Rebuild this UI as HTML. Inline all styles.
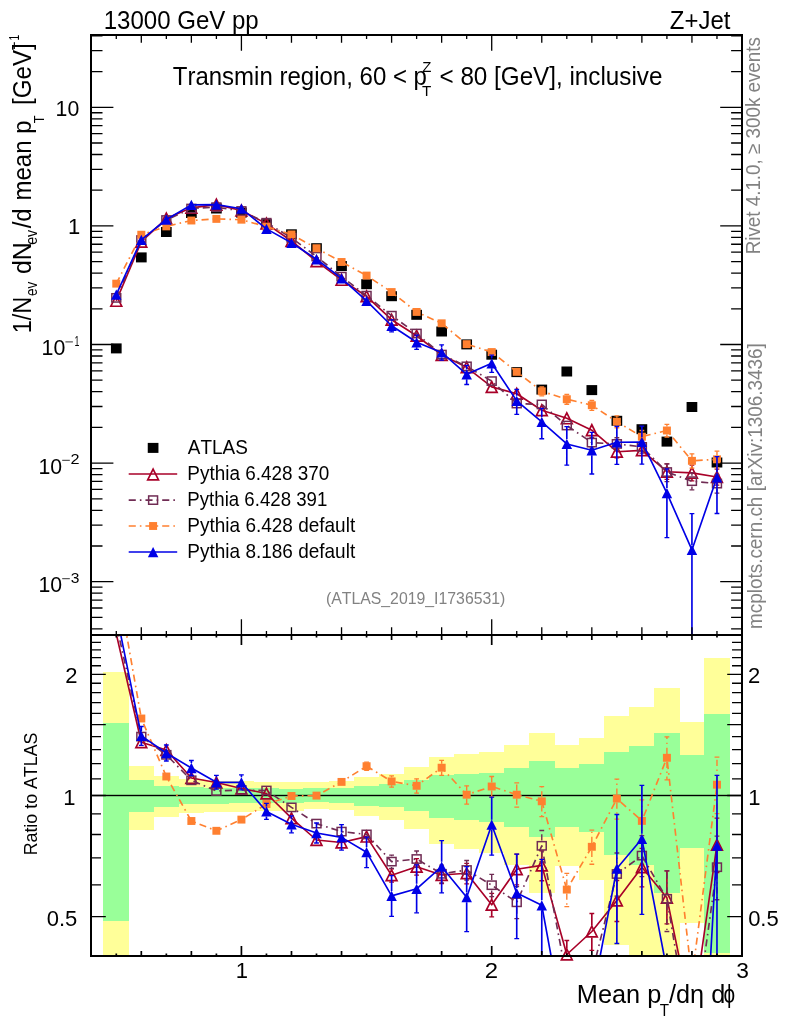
<!DOCTYPE html>
<html><head><meta charset="utf-8"><title>Z+Jet Transmin mean pT</title>
<style>html,body{margin:0;padding:0;background:#fff}body{width:786px;height:1024px;overflow:hidden}svg{display:block;will-change:transform}text{font-family:'Liberation Sans', sans-serif;fill:#000;font-kerning:none}</style></head><body>
<svg width="786" height="1024" viewBox="0 0 786 1024">
<defs>
<clipPath id="cm"><rect x="91" y="35" width="651" height="600"/></clipPath>
<clipPath id="cr"><rect x="91" y="635" width="651" height="321"/></clipPath>
<clipPath id="crm"><rect x="81" y="635" width="671" height="329"/></clipPath>
</defs>
<g clip-path="url(#cr)" shape-rendering="crispEdges">
<rect x="103" y="672.1" width="26" height="283.9" fill="#ffff99"/>
<rect x="128" y="766" width="26" height="64.2" fill="#ffff99"/>
<rect x="153" y="776.2" width="26" height="40.5" fill="#ffff99"/>
<rect x="178" y="779.3" width="26" height="33.8" fill="#ffff99"/>
<rect x="203" y="780.5" width="26" height="31.8" fill="#ffff99"/>
<rect x="228" y="781" width="26" height="30.8" fill="#ffff99"/>
<rect x="253" y="781.8" width="26" height="29.3" fill="#ffff99"/>
<rect x="278" y="782" width="26" height="28.5" fill="#ffff99"/>
<rect x="303" y="782.1" width="27" height="26.7" fill="#ffff99"/>
<rect x="329" y="781.3" width="26" height="29" fill="#ffff99"/>
<rect x="354" y="776.7" width="26" height="38.9" fill="#ffff99"/>
<rect x="379" y="774.1" width="26" height="45.4" fill="#ffff99"/>
<rect x="404" y="766.5" width="26" height="62.9" fill="#ffff99"/>
<rect x="429" y="757.1" width="26" height="86.7" fill="#ffff99"/>
<rect x="454" y="754.2" width="26" height="95.2" fill="#ffff99"/>
<rect x="479" y="752.2" width="26" height="100.5" fill="#ffff99"/>
<rect x="504" y="745.3" width="26" height="120.1" fill="#ffff99"/>
<rect x="529" y="732.6" width="26" height="160.8" fill="#ffff99"/>
<rect x="554" y="745" width="26" height="120.5" fill="#ffff99"/>
<rect x="579" y="738.3" width="26" height="141.4" fill="#ffff99"/>
<rect x="604" y="715.7" width="26" height="229.1" fill="#ffff99"/>
<rect x="629" y="707.2" width="26" height="248.8" fill="#ffff99"/>
<rect x="654" y="687.5" width="26" height="268.5" fill="#ffff99"/>
<rect x="679" y="722.2" width="26" height="200.6" fill="#ffff99"/>
<rect x="704" y="658.1" width="26" height="297.9" fill="#ffff99"/>
<rect x="103" y="722.9" width="26" height="198" fill="#99ff99"/>
<rect x="128" y="780" width="26" height="31.8" fill="#99ff99"/>
<rect x="153" y="785.6" width="26" height="20.9" fill="#99ff99"/>
<rect x="178" y="787.4" width="26" height="16.8" fill="#99ff99"/>
<rect x="203" y="787.7" width="26" height="16.3" fill="#99ff99"/>
<rect x="228" y="788.2" width="26" height="15.2" fill="#99ff99"/>
<rect x="253" y="788.4" width="26" height="14.5" fill="#99ff99"/>
<rect x="278" y="788.7" width="26" height="14" fill="#99ff99"/>
<rect x="303" y="788.2" width="27" height="13.7" fill="#99ff99"/>
<rect x="329" y="787.9" width="26" height="14.8" fill="#99ff99"/>
<rect x="354" y="786.3" width="26" height="19.4" fill="#99ff99"/>
<rect x="379" y="784.4" width="26" height="22.4" fill="#99ff99"/>
<rect x="404" y="780.2" width="26" height="31.2" fill="#99ff99"/>
<rect x="429" y="774.9" width="26" height="42.9" fill="#99ff99"/>
<rect x="454" y="773.8" width="26" height="46.3" fill="#99ff99"/>
<rect x="479" y="772.5" width="26" height="49.6" fill="#99ff99"/>
<rect x="504" y="768.2" width="26" height="59" fill="#99ff99"/>
<rect x="529" y="761.1" width="26" height="76.3" fill="#99ff99"/>
<rect x="554" y="768.1" width="26" height="58.9" fill="#99ff99"/>
<rect x="579" y="764.4" width="26" height="67.8" fill="#99ff99"/>
<rect x="604" y="751.6" width="26" height="103.2" fill="#99ff99"/>
<rect x="629" y="746.3" width="26" height="118.7" fill="#99ff99"/>
<rect x="654" y="733.1" width="26" height="159.4" fill="#99ff99"/>
<rect x="679" y="755" width="26" height="92.8" fill="#99ff99"/>
<rect x="704" y="714.1" width="26" height="238.4" fill="#99ff99"/>
</g>
<rect x="91" y="794.8" width="651" height="1.4" fill="#000"/>
<g clip-path="url(#cr)" fill="none" stroke="#a80028" stroke-width="1.65">
<polyline points="116.28,634 141.31,742.2 166.34,750 191.37,778 216.39,782.5 241.42,788.5 266.45,793.5 291.48,818.2 316.51,840 341.54,842.5 366.57,836.6 391.6,875.3 416.63,866.7 441.65,875 466.68,873.3 491.71,904.8 516.74,869.2 541.77,865.4 566.8,954.5 591.83,931.5 616.86,900.5 641.88,867.2 666.91,897.8 691.94,1019 716.97,844.7" stroke-linejoin="round"/>
<path d="M391.6 869.3V868.8M391.6 881.3V882.12M416.63 860.7V858.7M416.63 872.7V875.1M441.65 869V866.7M441.65 881V883.72M466.68 867.3V863.3M466.68 879.3V883.8M491.71 898.8V893.3M491.71 910.8V916.88M516.74 863.2V854.2M516.74 875.2V884.95M541.77 859.4V850.8M541.77 871.4V880.73M566.8 948.5V940.5M566.8 960.5V969.2M591.83 925.5V913.5M591.83 937.5V950.4M616.86 894.5V880.5M616.86 906.5V921.5M641.88 861.2V848.4M641.88 873.2V886.94M666.91 891.8V870.8M666.91 903.8V923.8M716.97 838.7V818.2M716.97 850.7V872.53" stroke-width="1.65"/>
<path d="M389.2 868.8h4.8M389.2 882.12h4.8M414.23 858.7h4.8M414.23 875.1h4.8M439.25 866.7h4.8M439.25 883.72h4.8M464.28 863.3h4.8M464.28 883.8h4.8M489.31 893.3h4.8M489.31 916.88h4.8M514.34 854.2h4.8M514.34 884.95h4.8M539.37 850.8h4.8M539.37 880.73h4.8M564.4 940.5h4.8M564.4 969.2h4.8M589.43 913.5h4.8M589.43 950.4h4.8M614.46 880.5h4.8M614.46 921.5h4.8M639.48 848.4h4.8M639.48 886.94h4.8M664.51 870.8h4.8M664.51 923.8h4.8M714.57 818.2h4.8M714.57 872.53h4.8" stroke-width="1.3"/>
</g>
<g>
<path d="M135.91 747.6L146.71 747.6L141.31 736.8Z" fill="none" stroke="#a80028" stroke-width="1.7" stroke-linejoin="miter"/>
<path d="M160.94 755.4L171.74 755.4L166.34 744.6Z" fill="none" stroke="#a80028" stroke-width="1.7" stroke-linejoin="miter"/>
<path d="M185.97 783.4L196.77 783.4L191.37 772.6Z" fill="none" stroke="#a80028" stroke-width="1.7" stroke-linejoin="miter"/>
<path d="M210.99 787.9L221.79 787.9L216.39 777.1Z" fill="none" stroke="#a80028" stroke-width="1.7" stroke-linejoin="miter"/>
<path d="M236.02 793.9L246.82 793.9L241.42 783.1Z" fill="none" stroke="#a80028" stroke-width="1.7" stroke-linejoin="miter"/>
<path d="M261.05 798.9L271.85 798.9L266.45 788.1Z" fill="none" stroke="#a80028" stroke-width="1.7" stroke-linejoin="miter"/>
<path d="M286.08 823.6L296.88 823.6L291.48 812.8Z" fill="none" stroke="#a80028" stroke-width="1.7" stroke-linejoin="miter"/>
<path d="M311.11 845.4L321.91 845.4L316.51 834.6Z" fill="none" stroke="#a80028" stroke-width="1.7" stroke-linejoin="miter"/>
<path d="M336.14 847.9L346.94 847.9L341.54 837.1Z" fill="none" stroke="#a80028" stroke-width="1.7" stroke-linejoin="miter"/>
<path d="M361.17 842L371.97 842L366.57 831.2Z" fill="none" stroke="#a80028" stroke-width="1.7" stroke-linejoin="miter"/>
<path d="M386.2 880.7L397 880.7L391.6 869.9Z" fill="none" stroke="#a80028" stroke-width="1.7" stroke-linejoin="miter"/>
<path d="M411.23 872.1L422.03 872.1L416.63 861.3Z" fill="none" stroke="#a80028" stroke-width="1.7" stroke-linejoin="miter"/>
<path d="M436.25 880.4L447.05 880.4L441.65 869.6Z" fill="none" stroke="#a80028" stroke-width="1.7" stroke-linejoin="miter"/>
<path d="M461.28 878.7L472.08 878.7L466.68 867.9Z" fill="none" stroke="#a80028" stroke-width="1.7" stroke-linejoin="miter"/>
<path d="M486.31 910.2L497.11 910.2L491.71 899.4Z" fill="none" stroke="#a80028" stroke-width="1.7" stroke-linejoin="miter"/>
<path d="M511.34 874.6L522.14 874.6L516.74 863.8Z" fill="none" stroke="#a80028" stroke-width="1.7" stroke-linejoin="miter"/>
<path d="M536.37 870.8L547.17 870.8L541.77 860Z" fill="none" stroke="#a80028" stroke-width="1.7" stroke-linejoin="miter"/>
<path d="M561.4 959.9L572.2 959.9L566.8 949.1Z" fill="none" stroke="#a80028" stroke-width="1.7" stroke-linejoin="miter"/>
<path d="M586.43 936.9L597.23 936.9L591.83 926.1Z" fill="none" stroke="#a80028" stroke-width="1.7" stroke-linejoin="miter"/>
<path d="M611.46 905.9L622.26 905.9L616.86 895.1Z" fill="none" stroke="#a80028" stroke-width="1.7" stroke-linejoin="miter"/>
<path d="M636.48 872.6L647.28 872.6L641.88 861.8Z" fill="none" stroke="#a80028" stroke-width="1.7" stroke-linejoin="miter"/>
<path d="M661.51 903.2L672.31 903.2L666.91 892.4Z" fill="none" stroke="#a80028" stroke-width="1.7" stroke-linejoin="miter"/>
<path d="M711.57 850.1L722.37 850.1L716.97 839.3Z" fill="none" stroke="#a80028" stroke-width="1.7" stroke-linejoin="miter"/>
</g>
<g clip-path="url(#cr)" fill="none" stroke="#702c54" stroke-width="1.65">
<polyline points="116.28,624 141.31,736.6 166.34,754.8 191.37,780.3 216.39,791 241.42,790 266.45,790.5 291.48,807.4 316.51,823.6 341.54,831.6 366.57,834.4 391.6,861.6 416.63,859 441.65,873.8 466.68,870 491.71,885.2 516.74,902.3 541.77,845.8 566.8,978.9 591.83,973.8 616.86,874 641.88,855.6 666.91,898.8 691.94,1047.3 716.97,867.2" stroke-dasharray="7.1 4.05 1.6 4.0" stroke-linejoin="round"/>
<path d="M391.6 856.3V855.1M391.6 866.9V868.43M416.63 853.7V851M416.63 864.3V867.4M441.65 868.5V865.2M441.65 879.1V882.83M466.68 864.7V860.5M466.68 875.3V879.98M491.71 879.9V874.4M491.71 890.5V896.54M516.74 897V886.7M516.74 907.6V918.68M541.77 840.5V830.5M541.77 851.1V861.87M616.86 868.7V853M616.86 879.3V896.05M641.88 850.3V835.6M641.88 860.9V876.6M666.91 893.5V870.8M666.91 904.1V931.5M716.97 861.9V836.2M716.97 872.5V899.75" stroke-width="1.4" stroke-dasharray="6.2 3.6 1.4 3.6"/>
<path d="M389.2 855.1h4.8M389.2 868.43h4.8M414.23 851h4.8M414.23 867.4h4.8M439.25 865.2h4.8M439.25 882.83h4.8M464.28 860.5h4.8M464.28 879.98h4.8M489.31 874.4h4.8M489.31 896.54h4.8M514.34 886.7h4.8M514.34 918.68h4.8M539.37 830.5h4.8M539.37 861.87h4.8M614.46 853h4.8M614.46 896.05h4.8M639.48 835.6h4.8M639.48 876.6h4.8M664.51 870.8h4.8M664.51 931.5h4.8M714.57 836.2h4.8M714.57 899.75h4.8" stroke-width="1.3"/>
</g>
<g>
<rect x="136.86" y="732.45" width="8.9" height="8.3" fill="none" stroke="#702c54" stroke-width="1.5"/>
<rect x="161.89" y="750.65" width="8.9" height="8.3" fill="none" stroke="#702c54" stroke-width="1.5"/>
<rect x="186.92" y="776.15" width="8.9" height="8.3" fill="none" stroke="#702c54" stroke-width="1.5"/>
<rect x="211.94" y="786.85" width="8.9" height="8.3" fill="none" stroke="#702c54" stroke-width="1.5"/>
<rect x="236.97" y="785.85" width="8.9" height="8.3" fill="none" stroke="#702c54" stroke-width="1.5"/>
<rect x="262" y="786.35" width="8.9" height="8.3" fill="none" stroke="#702c54" stroke-width="1.5"/>
<rect x="287.03" y="803.25" width="8.9" height="8.3" fill="none" stroke="#702c54" stroke-width="1.5"/>
<rect x="312.06" y="819.45" width="8.9" height="8.3" fill="none" stroke="#702c54" stroke-width="1.5"/>
<rect x="337.09" y="827.45" width="8.9" height="8.3" fill="none" stroke="#702c54" stroke-width="1.5"/>
<rect x="362.12" y="830.25" width="8.9" height="8.3" fill="none" stroke="#702c54" stroke-width="1.5"/>
<rect x="387.15" y="857.45" width="8.9" height="8.3" fill="none" stroke="#702c54" stroke-width="1.5"/>
<rect x="412.18" y="854.85" width="8.9" height="8.3" fill="none" stroke="#702c54" stroke-width="1.5"/>
<rect x="437.2" y="869.65" width="8.9" height="8.3" fill="none" stroke="#702c54" stroke-width="1.5"/>
<rect x="462.23" y="865.85" width="8.9" height="8.3" fill="none" stroke="#702c54" stroke-width="1.5"/>
<rect x="487.26" y="881.05" width="8.9" height="8.3" fill="none" stroke="#702c54" stroke-width="1.5"/>
<rect x="512.29" y="898.15" width="8.9" height="8.3" fill="none" stroke="#702c54" stroke-width="1.5"/>
<rect x="537.32" y="841.65" width="8.9" height="8.3" fill="none" stroke="#702c54" stroke-width="1.5"/>
<rect x="612.41" y="869.85" width="8.9" height="8.3" fill="none" stroke="#702c54" stroke-width="1.5"/>
<rect x="637.43" y="851.45" width="8.9" height="8.3" fill="none" stroke="#702c54" stroke-width="1.5"/>
<rect x="662.46" y="894.65" width="8.9" height="8.3" fill="none" stroke="#702c54" stroke-width="1.5"/>
<rect x="712.52" y="863.05" width="8.9" height="8.3" fill="none" stroke="#702c54" stroke-width="1.5"/>
</g>
<g clip-path="url(#cr)" fill="none" stroke="#ff8030" stroke-width="1.65">
<polyline points="116.28,575.7 141.31,718.5 166.34,776.5 191.37,821 216.39,830.8 241.42,819.6 266.45,804 291.48,796 316.51,795.6 341.54,781.9 366.57,766.2 391.6,781.4 416.63,785.8 441.65,767.7 466.68,794.7 491.71,786.5 516.74,794.7 541.77,801.3 566.8,889.6 591.83,846.8 616.86,798.6 641.88,820.9 666.91,757.8 691.94,978.2 716.97,784.7" stroke-dasharray="7.1 4.05 1.6 4.0" stroke-linejoin="round"/>
<path d="M366.57 762.3V762.2M366.57 770.1V770.4M391.6 777.5V775.9M391.6 785.3V787.17M416.63 781.9V778.8M416.63 789.7V793.15M441.65 763.8V760.3M441.65 771.6V775.47M466.68 790.8V785.8M466.68 798.6V804.05M491.71 782.6V776.5M491.71 790.4V797M516.74 790.8V782.9M516.74 798.6V807.09M541.77 797.4V786.7M541.77 805.2V816.63M566.8 885.7V873.4M566.8 893.5V906.61M591.83 842.9V830.2M591.83 850.7V864.23M616.86 794.7V779.1M616.86 802.5V819.08M641.88 817V799.9M641.88 824.8V842.95M666.91 753.9V736.8M666.91 761.7V779.85M716.97 780.8V757.2M716.97 788.6V813.58" stroke-width="1.4" stroke-dasharray="6.2 3.6 1.4 3.6"/>
<path d="M364.17 762.2h4.8M364.17 770.4h4.8M389.2 775.9h4.8M389.2 787.17h4.8M414.23 778.8h4.8M414.23 793.15h4.8M439.25 760.3h4.8M439.25 775.47h4.8M464.28 785.8h4.8M464.28 804.05h4.8M489.31 776.5h4.8M489.31 797h4.8M514.34 782.9h4.8M514.34 807.09h4.8M539.37 786.7h4.8M539.37 816.63h4.8M564.4 873.4h4.8M564.4 906.61h4.8M589.43 830.2h4.8M589.43 864.23h4.8M614.46 779.1h4.8M614.46 819.08h4.8M639.48 799.9h4.8M639.48 842.95h4.8M664.51 736.8h4.8M664.51 779.85h4.8M714.57 757.2h4.8M714.57 813.58h4.8" stroke-width="1.3"/>
</g>
<g>
<rect x="137.31" y="714.55" width="8" height="7.9" fill="#ff8030" stroke="none"/>
<rect x="162.34" y="772.55" width="8" height="7.9" fill="#ff8030" stroke="none"/>
<rect x="187.37" y="817.05" width="8" height="7.9" fill="#ff8030" stroke="none"/>
<rect x="212.39" y="826.85" width="8" height="7.9" fill="#ff8030" stroke="none"/>
<rect x="237.42" y="815.65" width="8" height="7.9" fill="#ff8030" stroke="none"/>
<rect x="262.45" y="800.05" width="8" height="7.9" fill="#ff8030" stroke="none"/>
<rect x="287.48" y="792.05" width="8" height="7.9" fill="#ff8030" stroke="none"/>
<rect x="312.51" y="791.65" width="8" height="7.9" fill="#ff8030" stroke="none"/>
<rect x="337.54" y="777.95" width="8" height="7.9" fill="#ff8030" stroke="none"/>
<rect x="362.57" y="762.25" width="8" height="7.9" fill="#ff8030" stroke="none"/>
<rect x="387.6" y="777.45" width="8" height="7.9" fill="#ff8030" stroke="none"/>
<rect x="412.63" y="781.85" width="8" height="7.9" fill="#ff8030" stroke="none"/>
<rect x="437.65" y="763.75" width="8" height="7.9" fill="#ff8030" stroke="none"/>
<rect x="462.68" y="790.75" width="8" height="7.9" fill="#ff8030" stroke="none"/>
<rect x="487.71" y="782.55" width="8" height="7.9" fill="#ff8030" stroke="none"/>
<rect x="512.74" y="790.75" width="8" height="7.9" fill="#ff8030" stroke="none"/>
<rect x="537.77" y="797.35" width="8" height="7.9" fill="#ff8030" stroke="none"/>
<rect x="562.8" y="885.65" width="8" height="7.9" fill="#ff8030" stroke="none"/>
<rect x="587.83" y="842.85" width="8" height="7.9" fill="#ff8030" stroke="none"/>
<rect x="612.86" y="794.65" width="8" height="7.9" fill="#ff8030" stroke="none"/>
<rect x="637.88" y="816.95" width="8" height="7.9" fill="#ff8030" stroke="none"/>
<rect x="662.91" y="753.85" width="8" height="7.9" fill="#ff8030" stroke="none"/>
<rect x="712.97" y="780.75" width="8" height="7.9" fill="#ff8030" stroke="none"/>
</g>
<g clip-path="url(#cr)" fill="none" stroke="#0000e6" stroke-width="1.65">
<polyline points="116.28,613 141.31,735.9 166.34,753 191.37,768 216.39,782.3 241.42,782.3 266.45,811.4 291.48,824.3 316.51,833 341.54,837.4 366.57,852.2 391.6,895.9 416.63,888.8 441.65,866.7 466.68,897.2 491.71,824.7 516.74,893.1 541.77,905.3 566.8,1041.5 591.83,999.7 616.86,868.5 641.88,838.8 666.91,970.4 691.94,1280.7 716.97,845.6" stroke-linejoin="round"/>
<path d="M141.31 730.9V726.5M141.31 740.9V745.3M166.34 748V745M166.34 758V761M191.37 763V760.5M191.37 773V775.5M216.39 777.3V775.4M216.39 787.3V789.2M241.42 777.3V774.8M241.42 787.3V789.8M266.45 806.4V803.4M266.45 816.4V819.4M291.48 819.3V815.8M291.48 829.3V832.8M316.51 828V823M316.51 838V843M341.54 832.4V824.7M341.54 842.4V850.1M366.57 847.2V837.2M366.57 857.2V867.7M391.6 890.9V875.6M391.6 900.9V916.3M416.63 883.8V864.8M416.63 893.8V912.8M441.65 861.7V840.7M441.65 871.7V892.9M466.68 892.2V866.7M466.68 902.2V931.6M491.71 819.7V797.2M491.71 829.7V855.2M516.74 888.1V854.1M516.74 898.1V938.7M541.77 900.3V859.3M541.77 910.3V962.3M616.86 863.5V814.5M616.86 873.5V943.5M641.88 833.8V785.3M641.88 843.8V914.4M716.97 840.6V775.3M716.97 850.6V968.6" stroke-width="1.65"/>
<path d="M138.91 726.5h4.8M138.91 745.3h4.8M163.94 745h4.8M163.94 761h4.8M188.97 760.5h4.8M188.97 775.5h4.8M213.99 775.4h4.8M213.99 789.2h4.8M239.02 774.8h4.8M239.02 789.8h4.8M264.05 803.4h4.8M264.05 819.4h4.8M289.08 815.8h4.8M289.08 832.8h4.8M314.11 823h4.8M314.11 843h4.8M339.14 824.7h4.8M339.14 850.1h4.8M364.17 837.2h4.8M364.17 867.7h4.8M389.2 875.6h4.8M389.2 916.3h4.8M414.23 864.8h4.8M414.23 912.8h4.8M439.25 840.7h4.8M439.25 892.9h4.8M464.28 866.7h4.8M464.28 931.6h4.8M489.31 797.2h4.8M489.31 855.2h4.8M514.34 854.1h4.8M514.34 938.7h4.8M539.37 859.3h4.8M539.37 962.3h4.8M614.46 814.5h4.8M614.46 943.5h4.8M639.48 785.3h4.8M639.48 914.4h4.8M714.57 775.3h4.8M714.57 968.6h4.8" stroke-width="1.3"/>
</g>
<g>
<path d="M136.06 741.05L146.56 741.05L141.31 730.75Z" fill="#0000e6" stroke="none"/>
<path d="M161.09 758.15L171.59 758.15L166.34 747.85Z" fill="#0000e6" stroke="none"/>
<path d="M186.12 773.15L196.62 773.15L191.37 762.85Z" fill="#0000e6" stroke="none"/>
<path d="M211.14 787.45L221.64 787.45L216.39 777.15Z" fill="#0000e6" stroke="none"/>
<path d="M236.17 787.45L246.67 787.45L241.42 777.15Z" fill="#0000e6" stroke="none"/>
<path d="M261.2 816.55L271.7 816.55L266.45 806.25Z" fill="#0000e6" stroke="none"/>
<path d="M286.23 829.45L296.73 829.45L291.48 819.15Z" fill="#0000e6" stroke="none"/>
<path d="M311.26 838.15L321.76 838.15L316.51 827.85Z" fill="#0000e6" stroke="none"/>
<path d="M336.29 842.55L346.79 842.55L341.54 832.25Z" fill="#0000e6" stroke="none"/>
<path d="M361.32 857.35L371.82 857.35L366.57 847.05Z" fill="#0000e6" stroke="none"/>
<path d="M386.35 901.05L396.85 901.05L391.6 890.75Z" fill="#0000e6" stroke="none"/>
<path d="M411.38 893.95L421.88 893.95L416.63 883.65Z" fill="#0000e6" stroke="none"/>
<path d="M436.4 871.85L446.9 871.85L441.65 861.55Z" fill="#0000e6" stroke="none"/>
<path d="M461.43 902.35L471.93 902.35L466.68 892.05Z" fill="#0000e6" stroke="none"/>
<path d="M486.46 829.85L496.96 829.85L491.71 819.55Z" fill="#0000e6" stroke="none"/>
<path d="M511.49 898.25L521.99 898.25L516.74 887.95Z" fill="#0000e6" stroke="none"/>
<path d="M536.52 910.45L547.02 910.45L541.77 900.15Z" fill="#0000e6" stroke="none"/>
<path d="M611.61 873.65L622.11 873.65L616.86 863.35Z" fill="#0000e6" stroke="none"/>
<path d="M636.63 843.95L647.13 843.95L641.88 833.65Z" fill="#0000e6" stroke="none"/>
<path d="M711.72 850.75L722.22 850.75L716.97 840.45Z" fill="#0000e6" stroke="none"/>
</g>
<g clip-path="url(#cm)">
<rect x="110.93" y="343.4" width="10.7" height="10" fill="#000" stroke="none"/>
<rect x="135.96" y="252.4" width="10.7" height="10" fill="#000" stroke="none"/>
<rect x="160.99" y="227" width="10.7" height="10" fill="#000" stroke="none"/>
<rect x="186.02" y="208" width="10.7" height="10" fill="#000" stroke="none"/>
<rect x="211.04" y="203.5" width="10.7" height="10" fill="#000" stroke="none"/>
<rect x="236.07" y="207.6" width="10.7" height="10" fill="#000" stroke="none"/>
<rect x="261.1" y="219.2" width="10.7" height="10" fill="#000" stroke="none"/>
<rect x="286.13" y="229.3" width="10.7" height="10" fill="#000" stroke="none"/>
<rect x="311.16" y="243.2" width="10.7" height="10" fill="#000" stroke="none"/>
<rect x="336.19" y="261" width="10.7" height="10" fill="#000" stroke="none"/>
<rect x="361.22" y="279.2" width="10.7" height="10" fill="#000" stroke="none"/>
<rect x="386.25" y="291.2" width="10.7" height="10" fill="#000" stroke="none"/>
<rect x="411.28" y="309.8" width="10.7" height="10" fill="#000" stroke="none"/>
<rect x="436.3" y="326.5" width="10.7" height="10" fill="#000" stroke="none"/>
<rect x="461.33" y="339.4" width="10.7" height="10" fill="#000" stroke="none"/>
<rect x="486.36" y="349.7" width="10.7" height="10" fill="#000" stroke="none"/>
<rect x="511.39" y="367.1" width="10.7" height="10" fill="#000" stroke="none"/>
<rect x="536.42" y="384.6" width="10.7" height="10" fill="#000" stroke="none"/>
<rect x="561.45" y="366.5" width="10.7" height="10" fill="#000" stroke="none"/>
<rect x="586.48" y="385.1" width="10.7" height="10" fill="#000" stroke="none"/>
<rect x="611.51" y="415.8" width="10.7" height="10" fill="#000" stroke="none"/>
<rect x="636.53" y="424.2" width="10.7" height="10" fill="#000" stroke="none"/>
<rect x="661.56" y="436.6" width="10.7" height="10" fill="#000" stroke="none"/>
<rect x="686.59" y="402" width="10.7" height="10" fill="#000" stroke="none"/>
<rect x="711.62" y="457.5" width="10.7" height="10" fill="#000" stroke="none"/>
</g>
<g clip-path="url(#cm)" fill="none" stroke="#a80028" stroke-width="1.65">
<polyline points="116.28,300.83 141.31,241.7 166.34,218.6 191.37,207.84 216.39,204.67 241.42,210.54 266.45,223.61 291.48,240.99 316.51,261.31 341.54,279.84 366.57,296.31 391.6,319.71 416.63,335.77 441.65,354.92 466.68,367.32 491.71,386.9 516.74,393.81 541.77,410.19 566.8,418.34 591.83,430.16 616.86,451.73 641.88,450.32 666.91,471.73 691.94,472.84 716.97,476.99" stroke-linejoin="round"/>
<path d="M616.86 457.73V457.92M666.91 465.73V463.78M666.91 477.73V479.39M691.94 466.84V465.18M691.94 478.84V480.88M716.97 470.99V469.19M716.97 482.99V485.19" stroke-width="1.65"/>
<path d="M614.46 457.92h4.8M664.51 463.78h4.8M664.51 479.39h4.8M689.54 465.18h4.8M689.54 480.88h4.8M714.57 469.19h4.8M714.57 485.19h4.8" stroke-width="1.3"/>
</g>
<g>
<path d="M110.88 306.23L121.68 306.23L116.28 295.43Z" fill="none" stroke="#a80028" stroke-width="1.7" stroke-linejoin="miter"/>
<path d="M135.91 247.1L146.71 247.1L141.31 236.3Z" fill="none" stroke="#a80028" stroke-width="1.7" stroke-linejoin="miter"/>
<path d="M160.94 224L171.74 224L166.34 213.2Z" fill="none" stroke="#a80028" stroke-width="1.7" stroke-linejoin="miter"/>
<path d="M185.97 213.24L196.77 213.24L191.37 202.44Z" fill="none" stroke="#a80028" stroke-width="1.7" stroke-linejoin="miter"/>
<path d="M210.99 210.07L221.79 210.07L216.39 199.27Z" fill="none" stroke="#a80028" stroke-width="1.7" stroke-linejoin="miter"/>
<path d="M236.02 215.94L246.82 215.94L241.42 205.14Z" fill="none" stroke="#a80028" stroke-width="1.7" stroke-linejoin="miter"/>
<path d="M261.05 229.01L271.85 229.01L266.45 218.21Z" fill="none" stroke="#a80028" stroke-width="1.7" stroke-linejoin="miter"/>
<path d="M286.08 246.39L296.88 246.39L291.48 235.59Z" fill="none" stroke="#a80028" stroke-width="1.7" stroke-linejoin="miter"/>
<path d="M311.11 266.71L321.91 266.71L316.51 255.91Z" fill="none" stroke="#a80028" stroke-width="1.7" stroke-linejoin="miter"/>
<path d="M336.14 285.24L346.94 285.24L341.54 274.44Z" fill="none" stroke="#a80028" stroke-width="1.7" stroke-linejoin="miter"/>
<path d="M361.17 301.71L371.97 301.71L366.57 290.91Z" fill="none" stroke="#a80028" stroke-width="1.7" stroke-linejoin="miter"/>
<path d="M386.2 325.11L397 325.11L391.6 314.31Z" fill="none" stroke="#a80028" stroke-width="1.7" stroke-linejoin="miter"/>
<path d="M411.23 341.17L422.03 341.17L416.63 330.37Z" fill="none" stroke="#a80028" stroke-width="1.7" stroke-linejoin="miter"/>
<path d="M436.25 360.32L447.05 360.32L441.65 349.52Z" fill="none" stroke="#a80028" stroke-width="1.7" stroke-linejoin="miter"/>
<path d="M461.28 372.72L472.08 372.72L466.68 361.92Z" fill="none" stroke="#a80028" stroke-width="1.7" stroke-linejoin="miter"/>
<path d="M486.31 392.3L497.11 392.3L491.71 381.5Z" fill="none" stroke="#a80028" stroke-width="1.7" stroke-linejoin="miter"/>
<path d="M511.34 399.21L522.14 399.21L516.74 388.41Z" fill="none" stroke="#a80028" stroke-width="1.7" stroke-linejoin="miter"/>
<path d="M536.37 415.59L547.17 415.59L541.77 404.79Z" fill="none" stroke="#a80028" stroke-width="1.7" stroke-linejoin="miter"/>
<path d="M561.4 423.74L572.2 423.74L566.8 412.94Z" fill="none" stroke="#a80028" stroke-width="1.7" stroke-linejoin="miter"/>
<path d="M586.43 435.56L597.23 435.56L591.83 424.76Z" fill="none" stroke="#a80028" stroke-width="1.7" stroke-linejoin="miter"/>
<path d="M611.46 457.13L622.26 457.13L616.86 446.33Z" fill="none" stroke="#a80028" stroke-width="1.7" stroke-linejoin="miter"/>
<path d="M636.48 455.72L647.28 455.72L641.88 444.92Z" fill="none" stroke="#a80028" stroke-width="1.7" stroke-linejoin="miter"/>
<path d="M661.51 477.13L672.31 477.13L666.91 466.33Z" fill="none" stroke="#a80028" stroke-width="1.7" stroke-linejoin="miter"/>
<path d="M686.54 478.24L697.34 478.24L691.94 467.44Z" fill="none" stroke="#a80028" stroke-width="1.7" stroke-linejoin="miter"/>
<path d="M711.57 482.39L722.37 482.39L716.97 471.59Z" fill="none" stroke="#a80028" stroke-width="1.7" stroke-linejoin="miter"/>
</g>
<g clip-path="url(#cm)" fill="none" stroke="#702c54" stroke-width="1.65">
<polyline points="116.28,297.88 141.31,240.05 166.34,220.01 191.37,208.52 216.39,207.17 241.42,210.98 266.45,222.73 291.48,237.81 316.51,256.48 341.54,276.63 366.57,295.66 391.6,315.67 416.63,333.51 441.65,354.57 466.68,366.35 491.71,381.12 516.74,403.56 541.77,404.42 566.8,425.52 591.83,442.62 616.86,443.92 641.88,446.9 666.91,472.03 691.94,481.17 716.97,483.62" stroke-dasharray="7.1 4.05 1.6 4.0" stroke-linejoin="round"/>
<path d="M591.83 437.32V437.32M591.83 447.92V448.19M616.86 438.62V437.74M616.86 449.22V450.42M641.88 441.6V441.01M641.88 452.2V453.09M666.91 466.73V463.78M666.91 477.33V481.66M691.94 475.87V472.93M691.94 486.47V489.83M716.97 478.32V474.49M716.97 488.92V493.21" stroke-width="1.4" stroke-dasharray="6.2 3.6 1.4 3.6"/>
<path d="M589.43 437.32h4.8M589.43 448.19h4.8M614.46 437.74h4.8M614.46 450.42h4.8M639.48 441.01h4.8M639.48 453.09h4.8M664.51 463.78h4.8M664.51 481.66h4.8M689.54 472.93h4.8M689.54 489.83h4.8M714.57 474.49h4.8M714.57 493.21h4.8" stroke-width="1.3"/>
</g>
<g>
<rect x="111.83" y="293.73" width="8.9" height="8.3" fill="none" stroke="#702c54" stroke-width="1.5"/>
<rect x="136.86" y="235.9" width="8.9" height="8.3" fill="none" stroke="#702c54" stroke-width="1.5"/>
<rect x="161.89" y="215.86" width="8.9" height="8.3" fill="none" stroke="#702c54" stroke-width="1.5"/>
<rect x="186.92" y="204.37" width="8.9" height="8.3" fill="none" stroke="#702c54" stroke-width="1.5"/>
<rect x="211.94" y="203.02" width="8.9" height="8.3" fill="none" stroke="#702c54" stroke-width="1.5"/>
<rect x="236.97" y="206.83" width="8.9" height="8.3" fill="none" stroke="#702c54" stroke-width="1.5"/>
<rect x="262" y="218.58" width="8.9" height="8.3" fill="none" stroke="#702c54" stroke-width="1.5"/>
<rect x="287.03" y="233.66" width="8.9" height="8.3" fill="none" stroke="#702c54" stroke-width="1.5"/>
<rect x="312.06" y="252.33" width="8.9" height="8.3" fill="none" stroke="#702c54" stroke-width="1.5"/>
<rect x="337.09" y="272.48" width="8.9" height="8.3" fill="none" stroke="#702c54" stroke-width="1.5"/>
<rect x="362.12" y="291.51" width="8.9" height="8.3" fill="none" stroke="#702c54" stroke-width="1.5"/>
<rect x="387.15" y="311.52" width="8.9" height="8.3" fill="none" stroke="#702c54" stroke-width="1.5"/>
<rect x="412.18" y="329.36" width="8.9" height="8.3" fill="none" stroke="#702c54" stroke-width="1.5"/>
<rect x="437.2" y="350.42" width="8.9" height="8.3" fill="none" stroke="#702c54" stroke-width="1.5"/>
<rect x="462.23" y="362.2" width="8.9" height="8.3" fill="none" stroke="#702c54" stroke-width="1.5"/>
<rect x="487.26" y="376.97" width="8.9" height="8.3" fill="none" stroke="#702c54" stroke-width="1.5"/>
<rect x="512.29" y="399.41" width="8.9" height="8.3" fill="none" stroke="#702c54" stroke-width="1.5"/>
<rect x="537.32" y="400.27" width="8.9" height="8.3" fill="none" stroke="#702c54" stroke-width="1.5"/>
<rect x="562.35" y="421.37" width="8.9" height="8.3" fill="none" stroke="#702c54" stroke-width="1.5"/>
<rect x="587.38" y="438.47" width="8.9" height="8.3" fill="none" stroke="#702c54" stroke-width="1.5"/>
<rect x="612.41" y="439.77" width="8.9" height="8.3" fill="none" stroke="#702c54" stroke-width="1.5"/>
<rect x="637.43" y="442.75" width="8.9" height="8.3" fill="none" stroke="#702c54" stroke-width="1.5"/>
<rect x="662.46" y="467.88" width="8.9" height="8.3" fill="none" stroke="#702c54" stroke-width="1.5"/>
<rect x="687.49" y="477.02" width="8.9" height="8.3" fill="none" stroke="#702c54" stroke-width="1.5"/>
<rect x="712.52" y="479.47" width="8.9" height="8.3" fill="none" stroke="#702c54" stroke-width="1.5"/>
</g>
<g clip-path="url(#cm)" fill="none" stroke="#ff8030" stroke-width="1.65">
<polyline points="116.28,283.65 141.31,234.72 166.34,226.4 191.37,220.51 216.39,218.9 241.42,219.7 266.45,226.7 291.48,234.45 316.51,248.23 341.54,261.99 366.57,275.57 391.6,292.05 416.63,311.94 441.65,323.31 466.68,344.16 491.71,352.05 516.74,371.86 541.77,391.31 566.8,399.22 591.83,405.21 616.86,421.71 641.88,436.68 666.91,430.49 691.94,460.82 716.97,459.32" stroke-dasharray="7.1 4.05 1.6 4.0" stroke-linejoin="round"/>
<path d="M541.77 387.41V387.01M541.77 395.21V395.82M566.8 395.32V394.45M566.8 403.12V404.23M591.83 401.31V400.32M591.83 409.11V410.35M616.86 417.81V415.97M616.86 425.61V427.74M641.88 432.78V430.5M641.88 440.58V443.18M666.91 426.59V424.31M666.91 434.39V436.99M691.94 456.92V453.81M691.94 464.72V468.18M716.97 455.42V451.22M716.97 463.22V467.82" stroke-width="1.4" stroke-dasharray="6.2 3.6 1.4 3.6"/>
<path d="M539.37 387.01h4.8M539.37 395.82h4.8M564.4 394.45h4.8M564.4 404.23h4.8M589.43 400.32h4.8M589.43 410.35h4.8M614.46 415.97h4.8M614.46 427.74h4.8M639.48 430.5h4.8M639.48 443.18h4.8M664.51 424.31h4.8M664.51 436.99h4.8M689.54 453.81h4.8M689.54 468.18h4.8M714.57 451.22h4.8M714.57 467.82h4.8" stroke-width="1.3"/>
</g>
<g>
<rect x="112.28" y="279.7" width="8" height="7.9" fill="#ff8030" stroke="none"/>
<rect x="137.31" y="230.77" width="8" height="7.9" fill="#ff8030" stroke="none"/>
<rect x="162.34" y="222.45" width="8" height="7.9" fill="#ff8030" stroke="none"/>
<rect x="187.37" y="216.56" width="8" height="7.9" fill="#ff8030" stroke="none"/>
<rect x="212.39" y="214.95" width="8" height="7.9" fill="#ff8030" stroke="none"/>
<rect x="237.42" y="215.75" width="8" height="7.9" fill="#ff8030" stroke="none"/>
<rect x="262.45" y="222.75" width="8" height="7.9" fill="#ff8030" stroke="none"/>
<rect x="287.48" y="230.5" width="8" height="7.9" fill="#ff8030" stroke="none"/>
<rect x="312.51" y="244.28" width="8" height="7.9" fill="#ff8030" stroke="none"/>
<rect x="337.54" y="258.04" width="8" height="7.9" fill="#ff8030" stroke="none"/>
<rect x="362.57" y="271.62" width="8" height="7.9" fill="#ff8030" stroke="none"/>
<rect x="387.6" y="288.1" width="8" height="7.9" fill="#ff8030" stroke="none"/>
<rect x="412.63" y="307.99" width="8" height="7.9" fill="#ff8030" stroke="none"/>
<rect x="437.65" y="319.36" width="8" height="7.9" fill="#ff8030" stroke="none"/>
<rect x="462.68" y="340.21" width="8" height="7.9" fill="#ff8030" stroke="none"/>
<rect x="487.71" y="348.1" width="8" height="7.9" fill="#ff8030" stroke="none"/>
<rect x="512.74" y="367.91" width="8" height="7.9" fill="#ff8030" stroke="none"/>
<rect x="537.77" y="387.36" width="8" height="7.9" fill="#ff8030" stroke="none"/>
<rect x="562.8" y="395.27" width="8" height="7.9" fill="#ff8030" stroke="none"/>
<rect x="587.83" y="401.26" width="8" height="7.9" fill="#ff8030" stroke="none"/>
<rect x="612.86" y="417.76" width="8" height="7.9" fill="#ff8030" stroke="none"/>
<rect x="637.88" y="432.73" width="8" height="7.9" fill="#ff8030" stroke="none"/>
<rect x="662.91" y="426.54" width="8" height="7.9" fill="#ff8030" stroke="none"/>
<rect x="687.94" y="456.87" width="8" height="7.9" fill="#ff8030" stroke="none"/>
<rect x="712.97" y="455.37" width="8" height="7.9" fill="#ff8030" stroke="none"/>
</g>
<g clip-path="url(#cm)" fill="none" stroke="#0000e6" stroke-width="1.65">
<polyline points="116.28,294.64 141.31,239.84 166.34,219.48 191.37,204.9 216.39,204.61 241.42,208.71 266.45,228.88 291.48,242.78 316.51,259.25 341.54,278.34 366.57,300.9 391.6,325.78 416.63,342.28 441.65,352.47 466.68,374.36 491.71,363.3 516.74,400.85 541.77,421.94 566.8,443.96 591.83,450.25 616.86,442.3 641.88,441.95 666.91,493.12 691.94,549.93 716.97,477.26" stroke-linejoin="round"/>
<path d="M391.6 320.78V319.8M391.6 330.78V331.78M416.63 337.28V335.21M416.63 347.28V349.35M441.65 347.47V344.81M441.65 357.47V360.19M466.68 369.36V365.37M466.68 379.36V384.49M491.71 358.3V355.2M491.71 368.3V372.29M516.74 395.85V389.36M516.74 405.85V414.28M541.77 416.94V408.39M541.77 426.94V438.73M566.8 438.96V426.59M566.8 448.96V465.17M591.83 445.25V432.4M591.83 455.25V473.99M616.86 437.3V426.4M616.86 447.3V464.4M641.88 436.95V426.2M641.88 446.95V464.22M666.91 488.12V468.97M666.91 498.12V537.6M691.94 544.93V513.55M691.94 554.93V1100M716.97 472.26V456.55M716.97 482.26V513.49" stroke-width="1.65"/>
<path d="M389.2 319.8h4.8M389.2 331.78h4.8M414.23 335.21h4.8M414.23 349.35h4.8M439.25 344.81h4.8M439.25 360.19h4.8M464.28 365.37h4.8M464.28 384.49h4.8M489.31 355.2h4.8M489.31 372.29h4.8M514.34 389.36h4.8M514.34 414.28h4.8M539.37 408.39h4.8M539.37 438.73h4.8M564.4 426.59h4.8M564.4 465.17h4.8M589.43 432.4h4.8M589.43 473.99h4.8M614.46 426.4h4.8M614.46 464.4h4.8M639.48 426.2h4.8M639.48 464.22h4.8M664.51 468.97h4.8M664.51 537.6h4.8M689.54 513.55h4.8M689.54 1100h4.8M714.57 456.55h4.8M714.57 513.49h4.8" stroke-width="1.3"/>
</g>
<g>
<path d="M111.03 299.79L121.53 299.79L116.28 289.49Z" fill="#0000e6" stroke="none"/>
<path d="M136.06 244.99L146.56 244.99L141.31 234.69Z" fill="#0000e6" stroke="none"/>
<path d="M161.09 224.63L171.59 224.63L166.34 214.33Z" fill="#0000e6" stroke="none"/>
<path d="M186.12 210.05L196.62 210.05L191.37 199.75Z" fill="#0000e6" stroke="none"/>
<path d="M211.14 209.76L221.64 209.76L216.39 199.46Z" fill="#0000e6" stroke="none"/>
<path d="M236.17 213.86L246.67 213.86L241.42 203.56Z" fill="#0000e6" stroke="none"/>
<path d="M261.2 234.03L271.7 234.03L266.45 223.73Z" fill="#0000e6" stroke="none"/>
<path d="M286.23 247.93L296.73 247.93L291.48 237.63Z" fill="#0000e6" stroke="none"/>
<path d="M311.26 264.4L321.76 264.4L316.51 254.1Z" fill="#0000e6" stroke="none"/>
<path d="M336.29 283.49L346.79 283.49L341.54 273.19Z" fill="#0000e6" stroke="none"/>
<path d="M361.32 306.05L371.82 306.05L366.57 295.75Z" fill="#0000e6" stroke="none"/>
<path d="M386.35 330.93L396.85 330.93L391.6 320.63Z" fill="#0000e6" stroke="none"/>
<path d="M411.38 347.43L421.88 347.43L416.63 337.13Z" fill="#0000e6" stroke="none"/>
<path d="M436.4 357.62L446.9 357.62L441.65 347.32Z" fill="#0000e6" stroke="none"/>
<path d="M461.43 379.51L471.93 379.51L466.68 369.21Z" fill="#0000e6" stroke="none"/>
<path d="M486.46 368.45L496.96 368.45L491.71 358.15Z" fill="#0000e6" stroke="none"/>
<path d="M511.49 406L521.99 406L516.74 395.7Z" fill="#0000e6" stroke="none"/>
<path d="M536.52 427.09L547.02 427.09L541.77 416.79Z" fill="#0000e6" stroke="none"/>
<path d="M561.55 449.11L572.05 449.11L566.8 438.81Z" fill="#0000e6" stroke="none"/>
<path d="M586.58 455.4L597.08 455.4L591.83 445.1Z" fill="#0000e6" stroke="none"/>
<path d="M611.61 447.45L622.11 447.45L616.86 437.15Z" fill="#0000e6" stroke="none"/>
<path d="M636.63 447.1L647.13 447.1L641.88 436.8Z" fill="#0000e6" stroke="none"/>
<path d="M661.66 498.27L672.16 498.27L666.91 487.97Z" fill="#0000e6" stroke="none"/>
<path d="M686.69 555.08L697.19 555.08L691.94 544.78Z" fill="#0000e6" stroke="none"/>
<path d="M711.72 482.41L722.22 482.41L716.97 472.11Z" fill="#0000e6" stroke="none"/>
</g>
<g fill="#000" shape-rendering="crispEdges">
<rect x="90" y="34" width="2" height="923"/>
<rect x="741" y="34" width="2" height="923"/>
<rect x="90" y="34" width="653" height="2"/>
<rect x="90" y="634" width="653" height="2"/>
<rect x="90" y="955" width="653" height="2"/>
</g>
<path d="M116.28 635v2.6M116.28 956v-2.6M141.31 635v5M141.31 956v-5M166.34 635v2.6M166.34 956v-2.6M191.37 635v5M191.37 956v-5M216.39 635v2.6M216.39 956v-2.6M241.42 635v10M241.42 956v-10M266.45 635v2.6M266.45 956v-2.6M291.48 635v5M291.48 956v-5M316.51 635v2.6M316.51 956v-2.6M341.54 635v5M341.54 956v-5M366.57 635v2.6M366.57 956v-2.6M391.6 635v5M391.6 956v-5M416.62 635v2.6M416.62 956v-2.6M441.65 635v5M441.65 956v-5M466.68 635v2.6M466.68 956v-2.6M491.71 635v10M491.71 956v-10M516.74 635v2.6M516.74 956v-2.6M541.77 635v5M541.77 956v-5M566.8 635v2.6M566.8 956v-2.6M591.83 635v5M591.83 956v-5M616.86 635v2.6M616.86 956v-2.6M641.88 635v5M641.88 956v-5M666.91 635v2.6M666.91 956v-2.6M691.94 635v5M691.94 956v-5M716.97 635v2.6M716.97 956v-2.6" stroke="#000" stroke-width="1.7" fill="none"/>
<path d="M116.28 35v4M116.28 635v-4M141.31 35v7.8M141.31 635v-7.8M166.34 35v4M166.34 635v-4M191.37 35v7.8M191.37 635v-7.8M216.39 35v4M216.39 635v-4M241.42 35v15.8M241.42 635v-15.8M266.45 35v4M266.45 635v-4M291.48 35v7.8M291.48 635v-7.8M316.51 35v4M316.51 635v-4M341.54 35v7.8M341.54 635v-7.8M366.57 35v4M366.57 635v-4M391.6 35v7.8M391.6 635v-7.8M416.62 35v4M416.62 635v-4M441.65 35v7.8M441.65 635v-7.8M466.68 35v4M466.68 635v-4M491.71 35v15.8M491.71 635v-15.8M516.74 35v4M516.74 635v-4M541.77 35v7.8M541.77 635v-7.8M566.8 35v4M566.8 635v-4M591.83 35v7.8M591.83 635v-7.8M616.86 35v4M616.86 635v-4M641.88 35v7.8M641.88 635v-7.8M666.91 35v4M666.91 635v-4M691.94 35v7.8M691.94 635v-7.8M716.97 35v4M716.97 635v-4M91 628.9h11.5M742 628.9h-10.9M91 617.4h11.5M742 617.4h-10.9M91 608.01h11.5M742 608.01h-10.9M91 600.07h11.5M742 600.07h-10.9M91 593.19h11.5M742 593.19h-10.9M91 587.13h11.5M742 587.13h-10.9M91 581.7h22.4M742 581.7h-21.8M91 546h11.5M742 546h-10.9M91 525.11h11.5M742 525.11h-10.9M91 510.3h11.5M742 510.3h-10.9M91 498.8h11.5M742 498.8h-10.9M91 489.41h11.5M742 489.41h-10.9M91 481.47h11.5M742 481.47h-10.9M91 474.59h11.5M742 474.59h-10.9M91 468.53h11.5M742 468.53h-10.9M91 463.1h22.4M742 463.1h-21.8M91 427.4h11.5M742 427.4h-10.9M91 406.51h11.5M742 406.51h-10.9M91 391.7h11.5M742 391.7h-10.9M91 380.2h11.5M742 380.2h-10.9M91 370.81h11.5M742 370.81h-10.9M91 362.87h11.5M742 362.87h-10.9M91 355.99h11.5M742 355.99h-10.9M91 349.93h11.5M742 349.93h-10.9M91 344.5h22.4M742 344.5h-21.8M91 308.8h11.5M742 308.8h-10.9M91 287.91h11.5M742 287.91h-10.9M91 273.1h11.5M742 273.1h-10.9M91 261.6h11.5M742 261.6h-10.9M91 252.21h11.5M742 252.21h-10.9M91 244.27h11.5M742 244.27h-10.9M91 237.39h11.5M742 237.39h-10.9M91 231.33h11.5M742 231.33h-10.9M91 225.9h22.4M742 225.9h-21.8M91 190.2h11.5M742 190.2h-10.9M91 169.31h11.5M742 169.31h-10.9M91 154.5h11.5M742 154.5h-10.9M91 143h11.5M742 143h-10.9M91 133.61h11.5M742 133.61h-10.9M91 125.67h11.5M742 125.67h-10.9M91 118.79h11.5M742 118.79h-10.9M91 112.73h11.5M742 112.73h-10.9M91 107.3h22.4M742 107.3h-21.8M91 71.6h11.5M742 71.6h-10.9M91 50.71h11.5M742 50.71h-10.9M91 35.9h11.5M742 35.9h-10.9M91 916.7h14.8M742 916.7h-14.8M91 884.82h10M742 884.82h-10M91 857.87h10M742 857.87h-10M91 834.52h10M742 834.52h-10M91 813.92h10M742 813.92h-10M91 795.5h14.8M742 795.5h-14.8M91 778.83h10M742 778.83h-10M91 763.62h10M742 763.62h-10M91 749.62h10M742 749.62h-10M91 736.67h10M742 736.67h-10M91 724.6h14.8M742 724.6h-14.8M91 713.32h10M742 713.32h-10M91 702.72h10M742 702.72h-10M91 692.72h10M742 692.72h-10M91 683.27h10M742 683.27h-10M91 674.3h14.8M742 674.3h-14.8M91 665.77h10M742 665.77h-10M91 657.63h10M742 657.63h-10M91 649.86h10M742 649.86h-10M91 642.42h10M742 642.42h-10" stroke="#000" stroke-width="1.3" fill="none"/>
<text transform="translate(55.58,116) scale(0.9665,1.04)" font-size="22">10</text>
<text transform="translate(68.04,233.7) scale(1.0000,1.04)" font-size="22">1</text>
<text transform="translate(41.57,355.1) scale(0.9710,1.04)" font-size="22">10</text>
<rect x="65.4" y="341.4" width="7.5" height="1" fill="#333"/>
<text transform="translate(74.53,345.8) scale(0.6037,1.04)" font-size="14.6">1</text>
<text transform="translate(38.48,473.5) scale(0.9665,1.04)" font-size="22">10</text>
<rect x="62.2" y="459.8" width="7.6" height="1" fill="#333"/>
<text transform="translate(70.48,464.2) scale(1.1126,1.04)" font-size="14.6">2</text>
<text transform="translate(38.48,591.9) scale(0.9665,1.04)" font-size="22">10</text>
<rect x="62.2" y="578.2" width="7.6" height="1" fill="#333"/>
<text transform="translate(70.71,582.6) scale(1.0690,1.04)" font-size="14.6">3</text>
<text transform="translate(65.27,683.3) scale(1.0000,1.04)" font-size="22">2</text>
<text transform="translate(63.24,804.5) scale(1.0000,1.04)" font-size="22">1</text>
<text transform="translate(46.74,925.7) scale(1.0000,1.04)" font-size="22">0.5</text>
<text transform="translate(747.89,683.1) scale(1.0000,1.04)" font-size="22">2</text>
<text transform="translate(748.32,804.5) scale(1.0000,1.04)" font-size="22">1</text>
<text transform="translate(748.14,925.5) scale(1.0000,1.04)" font-size="22">0.5</text>
<text transform="translate(235.68,977.9) scale(1.0000,1.04)" font-size="22">1</text>
<text transform="translate(484.7,977.9) scale(1.0876,1.04)" font-size="22">2</text>
<text transform="translate(736.23,977.9) scale(1.0354,1.04)" font-size="22">3</text>
<text transform="translate(103.67,28.7) scale(1.0023,1.04)" font-size="24">13000 GeV pp</text>
<text transform="translate(669.84,28.6) scale(0.9974,1.04)" font-size="24">Z+Jet</text>
<text transform="translate(172.76,84.7) scale(1.0005,1.04)" font-size="24">Transmin region, 60 &lt; p</text>
<text transform="translate(422.32,72) scale(1.0252,1.04)" font-size="14.6">Z</text>
<text transform="translate(422.06,96.4) scale(1.0418,1.04)" font-size="14.6">T</text>
<text transform="translate(439.5,84.7) scale(1.0099,1.04)" font-size="24">&lt; 80 [GeV], inclusive</text>
<text transform="translate(576.82,1002.5) scale(1.0418,1.04)" font-size="24.3">Mean p</text>
<text transform="translate(659.76,1016.3) scale(0.9506,1.04)" font-size="16">T</text>
<text transform="translate(669,1002.5) scale(1.0404,1.04)" font-size="24.3">/dη d</text>
<text transform="translate(723.39,1002.5) scale(0.8539,1.04)" font-size="24.3">ϕ</text>
<text transform="translate(31,333.3) rotate(-90) scale(0.9711,1.04)" font-size="24.3">1/N</text>
<text transform="translate(36.9,296.07) rotate(-90) scale(0.8685,1.04)" font-size="15.5">ev</text>
<text transform="translate(31,274.04) rotate(-90) scale(1.0228,1.04)" font-size="24.3">dN</text>
<text transform="translate(36.9,244.81) rotate(-90) scale(0.9196,1.04)" font-size="15.5">ev</text>
<text transform="translate(31,228.3) rotate(-90) scale(0.9840,1.04)" font-size="24.3">/d</text>
<text transform="translate(31,200.6) rotate(-90) scale(0.9914,1.04)" font-size="24.3">mean</text>
<text transform="translate(31,133.83) rotate(-90) scale(0.9791,1.04)" font-size="24.3">p</text>
<text transform="translate(43.5,123.18) rotate(-90) scale(0.8601,1.04)" font-size="14.6">T</text>
<text transform="translate(31,105.02) rotate(-90) scale(0.9938,1.04)" font-size="24.3">[GeV]</text>
<rect x="13.8" y="42.2" width="1.1" height="6.8" fill="#000"/>
<text transform="translate(18.8,40.6) rotate(-90) scale(0.7149,1.04)" font-size="14.6">1</text>
<text transform="translate(36.9,855.36) rotate(-90) scale(0.9905,1.04)" font-size="18">Ratio to ATLAS</text>
<text transform="translate(759.8,254.34) rotate(-90) scale(1.0009,1.04)" font-size="18.8" style="fill:#828282">Rivet 4.1.0, ≥ 300k events</text>
<text transform="translate(761.7,628.96) rotate(-90) scale(1.0062,1.04)" font-size="18.8" style="fill:#828282">mcplots.cern.ch [arXiv:1306.3436]</text>
<text transform="translate(325.92,604.1) scale(1.0154,1.04)" font-size="15.6" style="fill:#828282">(ATLAS_2019_I1736531)</text>
<rect x="147.75" y="442.9" width="10.7" height="10" fill="#000" stroke="none"/>
<path d="M128.7 474H177.2" stroke="#a80028" stroke-width="1.65" fill="none"/>
<path d="M147.7 479.9L158.5 479.9L153.1 469.1Z" fill="none" stroke="#a80028" stroke-width="1.7" stroke-linejoin="miter"/>
<path d="M128.7 500.1H177.2" stroke="#702c54" stroke-width="1.65" fill="none" stroke-dasharray="7.1 4.05 1.6 4.0"/>
<rect x="148.65" y="495.95" width="8.9" height="8.3" fill="none" stroke="#702c54" stroke-width="1.5"/>
<path d="M128.7 526H177.2" stroke="#ff8030" stroke-width="1.65" fill="none" stroke-dasharray="7.1 4.05 1.6 4.0"/>
<rect x="149.1" y="522.05" width="8" height="7.9" fill="#ff8030" stroke="none"/>
<path d="M128.7 552H177.2" stroke="#0000e6" stroke-width="1.65" fill="none"/>
<path d="M147.85 557.25L158.35 557.25L153.1 546.95Z" fill="#0000e6" stroke="none"/>
<text transform="translate(187.76,453.8) scale(1.0092,1.04)" font-size="18.8">ATLAS</text>
<text transform="translate(187.35,479.73) scale(1.0070,1.04)" font-size="18.8">Pythia 6.428 370</text>
<text transform="translate(187.37,505.66) scale(0.9924,1.04)" font-size="18.8">Pythia 6.428 391</text>
<text transform="translate(187.34,531.59) scale(1.0103,1.04)" font-size="18.8">Pythia 6.428 default</text>
<text transform="translate(187.34,557.52) scale(1.0103,1.04)" font-size="18.8">Pythia 8.186 default</text>
</svg></body></html>
